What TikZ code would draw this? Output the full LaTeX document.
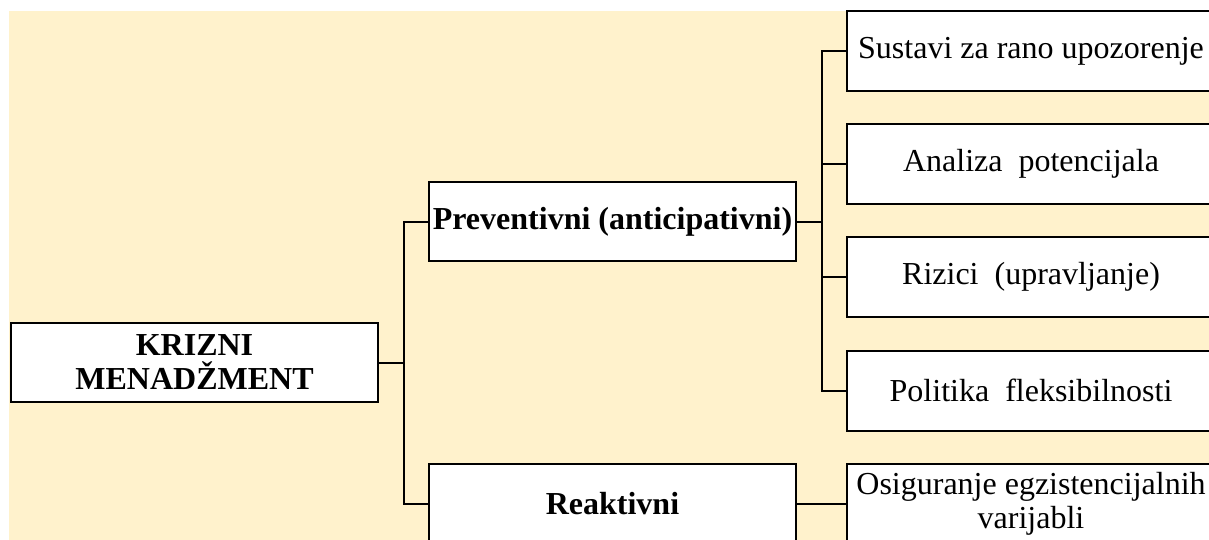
\documentclass[tikz,border=0pt]{standalone}
\usepackage{fontspec}
\setmainfont{Liberation Serif}
\definecolor{bgcream}{HTML}{FFF2CC}
\tikzset{
  box/.style={draw=black, line width=2pt, fill=white, minimum width=367pt, minimum height=79pt, inner sep=0pt, align=center, font=\fontsize{32}{34}\selectfont},
  boldbox/.style={box, font=\fontsize{32}{34}\selectfont\bfseries},
  conn/.style={draw=black, line width=2pt}
}
\begin{document}
\begin{tikzpicture}[x=1pt,y=-1pt]
\useasboundingbox (0,0) rectangle (1209,540);
\clip (0,0) rectangle (1209,540);
\fill[bgcream] (9,11) rectangle (1209,540);
% main nodes
\node[boldbox] (k) at (194.5,362.5) {KRIZNI\\MENADŽMENT};
\node[boldbox] (p) at (612.5,221.5) {Preventivni (anticipativni)};
\node[boldbox, minimum height=80pt] (r) at (612.5,504) {Reaktivni};
\node[box, minimum width=368pt, minimum height=80pt] (s1) at (1031,51) {Sustavi za rano upozorenje};
\node[box, minimum width=368pt, minimum height=80pt] (s2) at (1031,164) {Analiza\ \ potencijala};
\node[box, minimum width=368pt, minimum height=80pt] (s3) at (1031,277) {Rizici\ \ (upravljanje)};
\node[box, minimum width=368pt, minimum height=80pt] (s4) at (1031,390.5) {Politika\ \ fleksibilnosti};
\node[box, minimum width=368pt, minimum height=80pt] (s5) at (1031,504) {Osiguranje egzistencijalnih\\varijabli};
% junctions
\coordinate (j1) at (404,362.5);
\coordinate (j2) at (822,221.5);
% connectors
\draw[conn] (k.east) -- (j1);
\draw[conn] (p.west) -| (j1) |- (r.west);
\draw[conn] (p.east) -- (j2);
\draw[conn] (s1.west) -| (j2) |- (s4.west);
\draw[conn] (s2.west) -- (s2.west -| j2);
\draw[conn] (s3.west) -- (s3.west -| j2);
\draw[conn] (r.east) -- (s5.west);
\end{tikzpicture}
\end{document}
